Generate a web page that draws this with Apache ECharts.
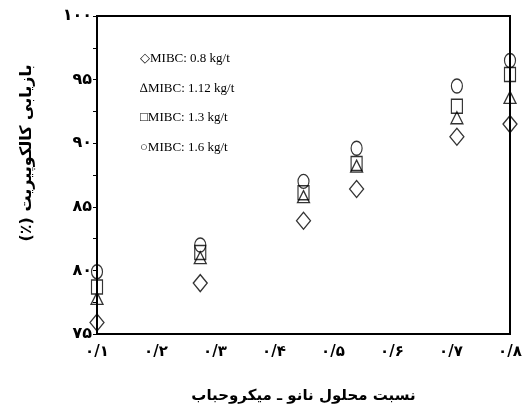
<!DOCTYPE html>
<html>
<head>
<meta charset="utf-8">
<script src="https://cdn.jsdelivr.net/npm/echarts@6/dist/echarts.min.js"></script>
<style>
  html, body { margin: 0; padding: 0; background: #fff; }
  #chart { width: 527px; height: 410px; }
</style>
</head>
<body>
<div id="chart"></div>
<script>
// نسبت محلول نانو - میکروحباب (x) and recovery % (y)
const xValues = [0.1, 0.275, 0.45, 0.54, 0.71, 0.8];
const mibc08 = [75.9, 79.0, 83.9, 86.4, 90.5, 91.5];
const mibc112 = [77.8, 81.0, 85.8, 88.2, 92.0, 93.6];
const mibc13 = [78.7, 81.4, 86.1, 88.4, 92.9, 95.4];
const mibc16 = [79.9, 82.0, 87.0, 89.6, 94.5, 96.5];

const seriesNames = ['◇MIBC: 0.8 kg/t', '∆MIBC: 1.12 kg/t', '□MIBC: 1.3 kg/t', '○MIBC: 1.6 kg/t'];
const xTickLabels = ['۰/۱', '۰/۲', '۰/۳', '۰/۴', '۰/۵', '۰/۶', '۰/۷', '۰/۸'];
const yTickLabels = ['۷۵', '۸۰', '۸۵', '۹۰', '۹۵', '۱۰۰'];
const xTitle = 'نسبت محلول نانو ـ میکروحباب';
const yTitle = 'بازیابی کالکوپیریت (٪)';

const chart = echarts.init(document.getElementById('chart'));

function pts(ys) {
  return xValues.map((x, i) => [x, ys[i]]);
}

// series look
const looks = [
  { data: mibc08, symbol: 'diamond', size: [14, 17] },
  { data: mibc112, symbol: 'triangle', size: [12, 12] },
  { data: mibc13, symbol: 'rect', size: [11, 14] },
  { data: mibc16, symbol: 'circle', size: [11, 14] }
];

const series = looks.map((s, i) => ({
  name: seriesNames[i],
  type: 'scatter',
  data: pts(s.data),
  symbol: s.symbol,
  symbolSize: s.size,
  itemStyle: { color: 'rgba(0,0,0,0)', borderColor: '#000', borderWidth: 1.3 },
  z: 3
}));

const option = {
  animation: false,
  grid: {
    left: 97, top: 16, right: 17, bottom: 76,
    show: true, borderColor: '#000', borderWidth: 2
  },
  legend: {
    orient: 'vertical',
    left: 130,
    top: 47,
    icon: 'none',
    itemWidth: 0,
    itemGap: 16,
    data: seriesNames,
    textStyle: { fontFamily: 'Liberation Serif', fontSize: 13, color: '#000' }
  },
  xAxis: {
    type: 'value',
    min: 0.1,
    max: 0.8,
    interval: 0.1,
    name: xTitle,
    nameLocation: 'middle',
    nameGap: 55,
    nameTextStyle: { fontFamily: 'DejaVu Sans', fontWeight: 'bold', fontSize: 15, color: '#000' },
    axisLine: { lineStyle: { color: '#000', width: 2 } },
    axisTick: { show: false },
    splitLine: { show: false },
    axisLabel: {
      margin: 11,
      fontFamily: 'DejaVu Sans', fontWeight: 'bold', fontSize: 15, color: '#000',
      formatter: v => xTickLabels[Math.round(v * 10) - 1]
    }
  },
  yAxis: {
    type: 'value',
    min: 75,
    max: 100,
    interval: 5,
    name: '\u200F' + yTitle + '\u200F',
    nameLocation: 'middle',
    nameGap: 62,
    nameRotate: 90,
    nameTextStyle: {
      fontFamily: 'DejaVu Sans', fontWeight: 'bold', fontSize: 16, color: '#000',
      padding: [0, 0, 0, 44]
    },
    axisLine: { lineStyle: { color: '#000', width: 2 } },
    axisTick: { show: true, inside: false, length: 4, lineStyle: { color: '#000', width: 1 } },
    minorTick: { show: true, splitNumber: 2, length: 4, lineStyle: { color: '#000', width: 1 } },
    splitLine: { show: false },
    axisLabel: {
      margin: 5,
      fontFamily: 'DejaVu Sans', fontWeight: 'bold', fontSize: 16, color: '#000',
      formatter: v => yTickLabels[Math.round((v - 75) / 5)]
    }
  },
  series: series
};

chart.setOption(option);
</script>
</body>
</html>
